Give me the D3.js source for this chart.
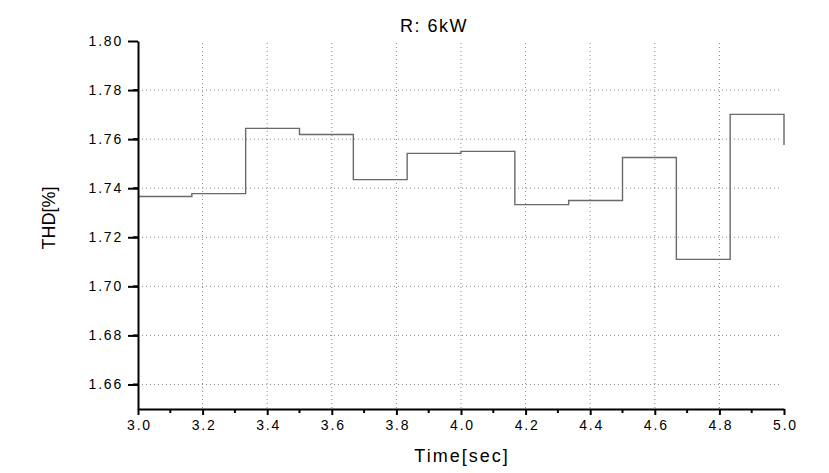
<!DOCTYPE html>
<html>
<head>
<meta charset="utf-8">
<script src="https://cdn.jsdelivr.net/npm/d3@7"></script>
<style>
  body { margin: 0; background: #fff; }
  text { font-family: "Liberation Sans", Arial, sans-serif; fill: #000; }
</style>
</head>
<body>
<div id="chart"></div>
<script>
// step times (1/6 s intervals) and THD values
const times = [3.0, 3.1667, 3.3333, 3.5, 3.6667, 3.8333, 4.0, 4.1667, 4.3333, 4.5, 4.6667, 4.8333, 5.0];
const thd = [1.7366, 1.7378, 1.7644, 1.7619, 1.7435, 1.7542, 1.7550, 1.7333, 1.7350, 1.7525, 1.7110, 1.7701, 1.7576];
const xTicks = [3.0, 3.2, 3.4, 3.6, 3.8, 4.0, 4.2, 4.4, 4.6, 4.8, 5.0];
const yTicks = [1.66, 1.68, 1.70, 1.72, 1.74, 1.76, 1.78, 1.80];

const width = 829, height = 473;
const margin = {top: 41, right: 45, bottom: 64, left: 138};

const svg = d3.select("#chart").append("svg")
    .attr("width", width)
    .attr("height", height);

const x = d3.scaleLinear()
    .domain([3.0, 5.0])
    .range([margin.left, width - margin.right]);

const y = d3.scaleLinear()
    .domain([1.65, 1.80])
    .range([height - margin.bottom, margin.top]);

// grid
svg.append("g")
  .selectAll("line")
  .data(xTicks.slice(1, -1))
  .enter().append("line")
    .attr("x1", d => x(d)).attr("x2", d => x(d))
    .attr("y1", y(1.80) + 2).attr("y2", y(1.65))
    .attr("stroke", "#8a8a8a")
    .attr("stroke-width", 1)
    .attr("stroke-dasharray", "1,3");

svg.append("g")
  .selectAll("line")
  .data(yTicks.slice(0, -1))
  .enter().append("line")
    .attr("x1", x(3.0)).attr("x2", x(5.0) - 2)
    .attr("y1", d => y(d)).attr("y2", d => y(d))
    .attr("stroke", "#8a8a8a")
    .attr("stroke-width", 1)
    .attr("stroke-dasharray", "1,3");

// step line
const line = d3.line()
    .x((d, i) => x(times[i]))
    .y(d => y(d))
    .curve(d3.curveStepAfter);

svg.append("path")
    .datum(thd)
    .attr("fill", "none")
    .attr("stroke", "#6a6a6a")
    .attr("stroke-width", 1.4)
    .attr("d", line);

// axes
const xMinor = d3.range(3.1, 5.0, 0.2);
const yMinor = d3.range(1.65, 1.80, 0.02).map(v => v + 0.01).filter(v => v < 1.80);

let xAxis = g => g
    .attr("transform", `translate(0,${y(1.65)})`)
    .call(d3.axisBottom(x)
          .tickValues(xTicks)
          .tickSize(6)
          .tickSizeOuter(0)
          .tickPadding(5)
          .tickFormat(d3.format(".1f")));

let yAxis = g => g
    .attr("transform", `translate(${x(3.0)},0)`)
    .call(d3.axisLeft(y)
          .tickValues(yTicks)
          .tickSize(10)
          .tickSizeOuter(0)
          .tickPadding(5)
          .tickFormat(d3.format(".2f")));

const gx = svg.append("g").call(xAxis);
const gy = svg.append("g").call(yAxis);

[gx, gy].forEach(g => {
  g.select(".domain").attr("stroke", "#000").attr("stroke-width", 2);
  g.selectAll(".tick line").attr("stroke", "#000").attr("stroke-width", 2);
  g.selectAll(".tick text")
    .style("font-size", "14px")
    .style("letter-spacing", "1.8px")
    .style("font-family", "'Liberation Sans', Arial, sans-serif")
    .attr("fill", "#000");
});
gx.selectAll(".tick text").attr("dx", "1px");

svg.append("g")
  .selectAll("line")
  .data(xMinor)
  .enter().append("line")
    .attr("x1", d => x(d)).attr("x2", d => x(d))
    .attr("y1", y(1.65)).attr("y2", y(1.65) + 4)
    .attr("stroke", "#000").attr("stroke-width", 2);

svg.append("g")
  .selectAll("line")
  .data(yMinor)
  .enter().append("line")
    .attr("x1", x(3.0) - 5).attr("x2", x(3.0))
    .attr("y1", d => y(d)).attr("y2", d => y(d))
    .attr("stroke", "#000").attr("stroke-width", 2);

// titles
svg.append("text")
    .attr("x", 434)
    .attr("y", 32)
    .attr("text-anchor", "middle")
    .style("font-size", "18px")
    .style("letter-spacing", "1.5px")
    .text("R: 6kW");

svg.append("text")
    .attr("x", 462)
    .attr("y", 462)
    .attr("text-anchor", "middle")
    .style("font-size", "18px")
    .style("letter-spacing", "2px")
    .text("Time[sec]");

svg.append("text")
    .attr("transform", "translate(55,218) rotate(-90)")
    .attr("text-anchor", "middle")
    .style("font-size", "18px")
    .text("THD[%]");
</script>
</body>
</html>
